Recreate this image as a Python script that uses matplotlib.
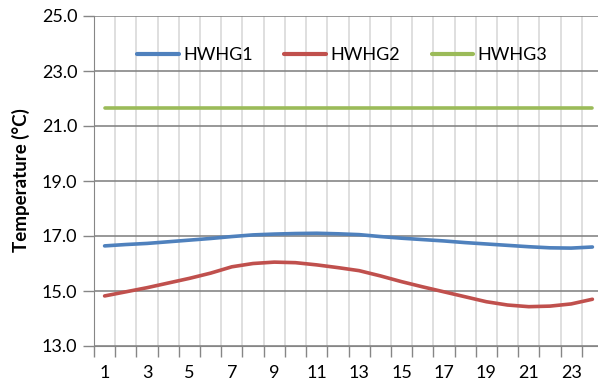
import numpy as np
import matplotlib
matplotlib.use("Agg")
import matplotlib.pyplot as plt
from matplotlib.ticker import FormatStrFormatter

# Hour of day
hours = list(range(1, 25))

# Temperatures (deg C)
hwhg1 = [16.64, 16.69, 16.73, 16.79, 16.85, 16.91, 16.98, 17.04, 17.07, 17.09,
         17.10, 17.08, 17.05, 16.98, 16.92, 16.87, 16.82, 16.76, 16.71, 16.66,
         16.61, 16.57, 16.56, 16.60]
hwhg2 = [14.82, 14.97, 15.12, 15.29, 15.46, 15.65, 15.88, 16.00, 16.05, 16.03,
         15.95, 15.85, 15.74, 15.55, 15.34, 15.15, 14.97, 14.79, 14.61, 14.49,
         14.43, 14.45, 14.53, 14.70]
hwhg3 = [21.67] * 24

series_names = ["HWHG1", "HWHG2", "HWHG3"]
colors = ["#4F81BD", "#C0504D", "#9BBB59"]

plt.rcParams['font.family'] = ['Lato', 'DejaVu Sans']

W, H = 598, 385
fig = plt.figure(figsize=(W / 100, H / 100), dpi=100)

# plot area in pixels: left 94, right ~603 (cut off by the image), top 16, bottom 346
ax = fig.add_axes([94 / W, (H - 346) / H, 509 / W, 330 / H])

for data, name, c in zip([hwhg1, hwhg2, hwhg3], series_names, colors):
    ax.plot(hours, data, color=c, lw=2.6, label=name,
            solid_capstyle='round', solid_joinstyle='round', zorder=3)

ax.set_xlim(0.5, 24.5)
ax.set_ylim(13, 25)

# x axis: labels on odd hours, tick marks and light grid at category edges
ax.set_xticks(np.arange(1, 24, 2))
ax.set_xticks(np.arange(0.5, 25, 1), minor=True)
ax.tick_params(axis='x', which='major', length=0, labelsize=13,
               pad=14, colors='#000000')
ax.tick_params(axis='x', which='minor', length=8, width=1, color='#868686')
ax.grid(axis='x', which='minor', color='#D9D9D9', lw=1.2, zorder=0)

# y axis
ax.set_yticks(np.arange(13, 25.1, 2))
ax.yaxis.set_major_formatter(FormatStrFormatter('%.1f'))
ax.tick_params(axis='y', length=8, width=1, color='#868686', labelsize=13,
               pad=4)
ax.grid(axis='y', which='major', color='#868686', lw=1.2, zorder=1)

for side in ['top', 'right']:
    ax.spines[side].set_visible(False)
ax.spines['left'].set_color('#868686')
ax.spines['bottom'].set_color('#868686')

fig.text(21 / W, 1 - 180 / H, 'Temperature (°C)', fontsize=13.5,
         fontweight='bold', rotation=90, ha='center', va='center')

leg = ax.legend(loc='center left', bbox_to_anchor=(137 / W, 1 - 55 / H),
                bbox_transform=fig.transFigure, ncol=3, frameon=False,
                fontsize=13, handlelength=2.3, handletextpad=0.25,
                columnspacing=1.75, borderpad=0, borderaxespad=0)
for line in leg.get_lines():
    line.set_linewidth(3)

fig.savefig("out.png", dpi=100)
